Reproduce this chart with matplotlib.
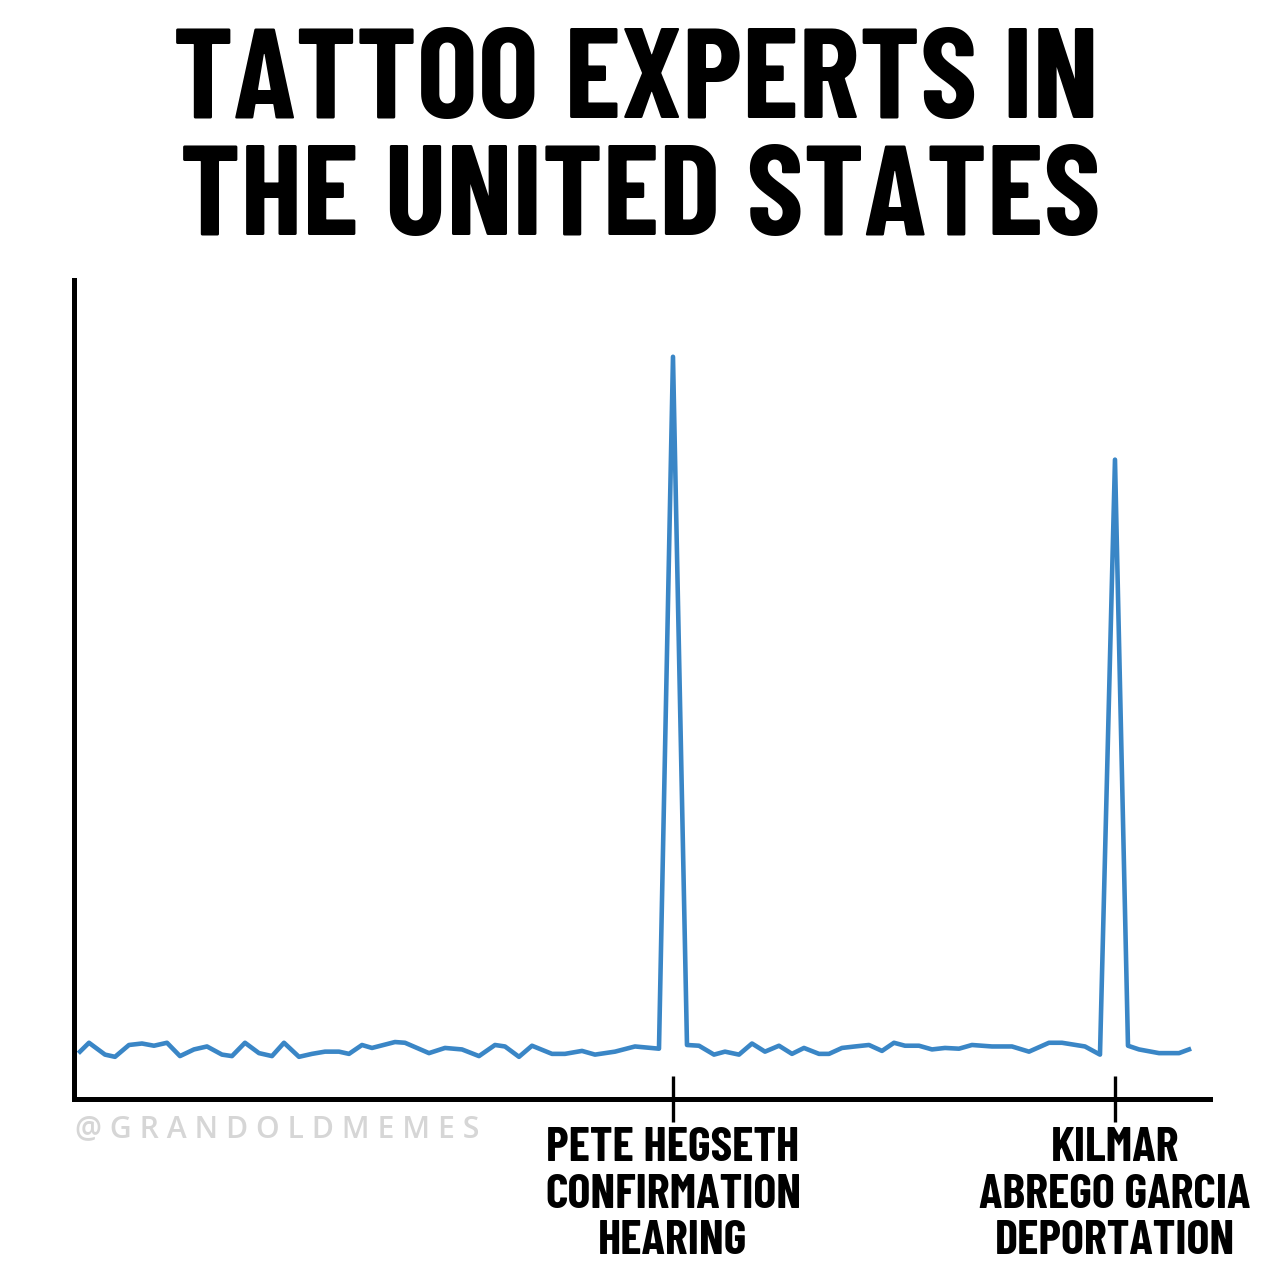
import matplotlib
matplotlib.use("Agg")
import matplotlib.pyplot as plt

# search interest over time (arbitrary weeks)
weeks = [0.6, 1.5, 3.1, 4.1, 5.5, 6.8, 8.0, 9.3, 10.6, 12.0, 13.3, 14.8, 15.8, 17.1,
         18.5, 19.8, 21.0, 22.5, 23.8, 25.1, 26.5, 27.5, 28.8, 29.8, 32.1, 33.1, 35.5,
         37.1, 38.8, 40.5, 42.1, 43.1, 44.5, 45.8, 47.8, 49.1, 50.8, 52.1, 54.1, 56.1,
         58.5, 59.9, 61.3, 62.5, 64.0, 65.1, 66.5, 67.8, 69.1, 70.5, 71.8, 73.0, 74.5,
         75.5, 76.8, 78.1, 79.5, 80.8, 82.0, 83.1, 84.5, 85.8, 87.1, 88.5, 89.8, 91.8,
         93.8, 95.5, 97.5, 98.8, 101.1, 102.6, 104.1, 105.4, 106.5, 108.5, 110.5, 111.5]
interest = [6.1, 7.3, 5.7, 5.4, 7.0, 7.2, 6.9, 7.3, 5.5, 6.4, 6.8, 5.7, 5.5, 7.3,
            5.9, 5.5, 7.3, 5.4, 5.8, 6.1, 6.1, 5.8, 7.0, 6.6, 7.4, 7.3, 5.9,
            6.6, 6.4, 5.5, 7.0, 6.8, 5.4, 6.9, 5.8, 5.8, 6.2, 5.7, 6.1, 6.8,
            6.5, 100.0, 7.0, 6.9, 5.7, 6.1, 5.7, 7.2, 6.1, 6.9, 5.8, 6.6, 5.8,
            5.8, 6.6, 6.8, 7.0, 6.2, 7.3, 6.9, 6.9, 6.4, 6.6, 6.5, 7.0, 6.8,
            6.8, 6.1, 7.3, 7.3, 6.8, 5.7, 86.1, 6.9, 6.4, 5.9, 5.9, 6.4]

event_weeks = [59.9, 104.1]
event_labels = ["PETE HEGSETH\nCONFIRMATION\nHEARING",
                "KILMAR\nABREGO GARCIA\nDEPORTATION"]

title_lines = ["TATTOO EXPERTS IN", "THE UNITED STATES"]
watermark = "@GRANDOLDMEMES"

cond = ["Barlow Condensed", "Roboto Condensed", "Liberation Sans", "DejaVu Sans"]


def fit_width(fig, txt, target_px):
    # scale the font so the text spans the wanted pixel width
    fig.canvas.draw()
    w = txt.get_window_extent().width
    txt.set_fontsize(txt.get_fontsize() * target_px / w)
    return txt.get_fontsize()


fig = plt.figure(figsize=(12.8, 12.8), dpi=100)
ax = fig.add_axes([0.0578, 0.1414, 0.8875, 0.64])

ax.plot(weeks, interest, color="#3a86c6", linewidth=3.3)

ax.set_xlim(0, 113.6)
ax.set_ylim(-0.3, 110.4)

for side in ["top", "right"]:
    ax.spines[side].set_visible(False)
for side in ["left", "bottom"]:
    ax.spines[side].set_linewidth(3.6)
    ax.spines[side].set_color("black")
    ax.spines[side].set_capstyle("projecting")

ax.set_yticks([])
ax.set_xticks(event_weeks)
labels = ax.set_xticklabels(event_labels, family=cond, fontweight="bold", fontsize=30,
                            linespacing=1.1)
ax.tick_params(axis="x", direction="inout", length=33, width=2.4, pad=4)
size = fit_width(fig, labels[0], 257)
ax.tick_params(axis="x", labelsize=size)

# title, one text per line so each baseline sits where it does in the picture
t1 = fig.text(0.497, 1 - 118 / 1280, title_lines[0], ha="center", va="baseline",
              family=cond, fontweight="bold", fontsize=80)
tsize = fit_width(fig, t1, 925)
fig.text(0.5, 1 - 235 / 1280, title_lines[1], ha="center", va="baseline",
         family=cond, fontweight="bold", fontsize=tsize)

wm = fig.text(75 / 1280, 1 - 1137 / 1280, " ".join(watermark), ha="left", va="baseline",
              family=["Open Sans", "DejaVu Sans"], fontweight="semibold",
              fontsize=25, color="#d6d6d6")
fit_width(fig, wm, 403)

fig.savefig("out.png", dpi=100, facecolor="white")
